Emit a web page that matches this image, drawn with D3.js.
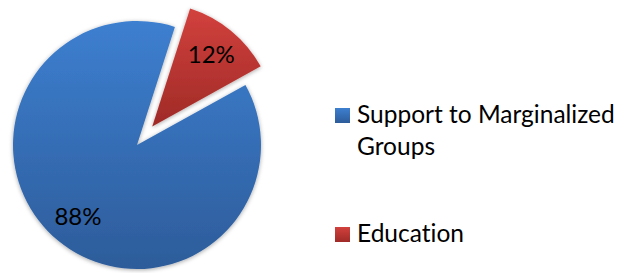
<!DOCTYPE html>
<html>
<head>
<meta charset="utf-8">
<script src="https://cdn.jsdelivr.net/npm/d3@7"></script>
<style>
  body { margin: 0; background: #fff; }
  svg { display: block; font-family: Lato, "Open Sans", sans-serif; font-variant-ligatures: none; }
</style>
</head>
<body>
<div class="chart"></div>
<script>
// chart data
var categories = ["Support to Marginalized Groups", "Education"];
var values = [88, 12];
var labels = ["88%", "12%"];
var legendLines = [["Support to Marginalized", "Groups"], ["Education"]];

var width = 632,
    height = 273;

var cx = 137, cy = 145, radius = 124, explode = 24;
var startDeg = 61;

var svg = d3.select(".chart").append("svg")
    .attr("width", width)
    .attr("height", height);

var defs = svg.append("defs");

var grads = [
    {id: "gBlue", top: "#3d7fd0", bottom: "#2d5c9a"},
    {id: "gRed", top: "#d2413d", bottom: "#9f2a27"}
];
grads.forEach(function(g) {
    var lg = defs.append("linearGradient")
        .attr("id", g.id)
        .attr("x1", 0).attr("y1", 0).attr("x2", 0).attr("y2", 1);
    lg.append("stop").attr("offset", "0%").attr("stop-color", g.top);
    lg.append("stop").attr("offset", "100%").attr("stop-color", g.bottom);
});

var filt = defs.append("filter").attr("id", "shadow")
    .attr("x", "-20%").attr("y", "-20%").attr("width", "140%").attr("height", "140%");
filt.append("feDropShadow")
    .attr("dx", 0).attr("dy", 1).attr("stdDeviation", 2)
    .attr("flood-color", "#000").attr("flood-opacity", 0.35);

var pie = d3.pie()
    .sort(null)
    .startAngle(startDeg * Math.PI / 180)
    .endAngle(startDeg * Math.PI / 180 + 2 * Math.PI);

var arcs = pie(values);

var arc = d3.arc().innerRadius(0).outerRadius(radius);
var labelArc = d3.arc().innerRadius(radius * 0.75).outerRadius(radius * 0.75);

function offset(d, i) {
    if (i !== 1) return [0, 0];
    var mid = (d.startAngle + d.endAngle) / 2;
    return [Math.sin(mid) * explode, -Math.cos(mid) * explode];
}

var slices = svg.append("g")
    .attr("transform", "translate(" + cx + "," + cy + ")")
    .selectAll("g")
    .data(arcs)
    .enter().append("g")
    .attr("transform", function(d, i) {
        var o = offset(d, i);
        return "translate(" + o[0] + "," + o[1] + ")";
    });

slices.append("path")
    .attr("d", arc)
    .attr("fill", function(d, i) { return "url(#" + grads[i].id + ")"; })
    .attr("filter", "url(#shadow)");

slices.append("text")
    .attr("transform", function(d) { return "translate(" + labelArc.centroid(d) + ")"; })
    .attr("text-anchor", "middle")
    .attr("dy", "0.35em")
    .attr("font-size", 24)
    .attr("fill", "#000")
    .text(function(d, i) { return labels[i]; });

// legend
var legendY = [108, 227];
var legend = svg.append("g")
    .selectAll("g")
    .data(categories)
    .enter().append("g")
    .attr("transform", function(d, i) { return "translate(335," + legendY[i] + ")"; });

legend.append("rect")
    .attr("width", 15)
    .attr("height", 15)
    .attr("fill", function(d, i) { return "url(#" + grads[i].id + ")"; });

legend.append("text")
    .attr("x", 22)
    .attr("y", 15)
    .attr("font-size", 24.5)
    .attr("fill", "#000")
    .selectAll("tspan")
    .data(function(d, i) { return legendLines[i]; })
    .enter().append("tspan")
    .attr("x", 22)
    .attr("dy", function(d, j) { return j === 0 ? 0 : 32; })
    .text(function(d) { return d; });
</script>
</body>
</html>
